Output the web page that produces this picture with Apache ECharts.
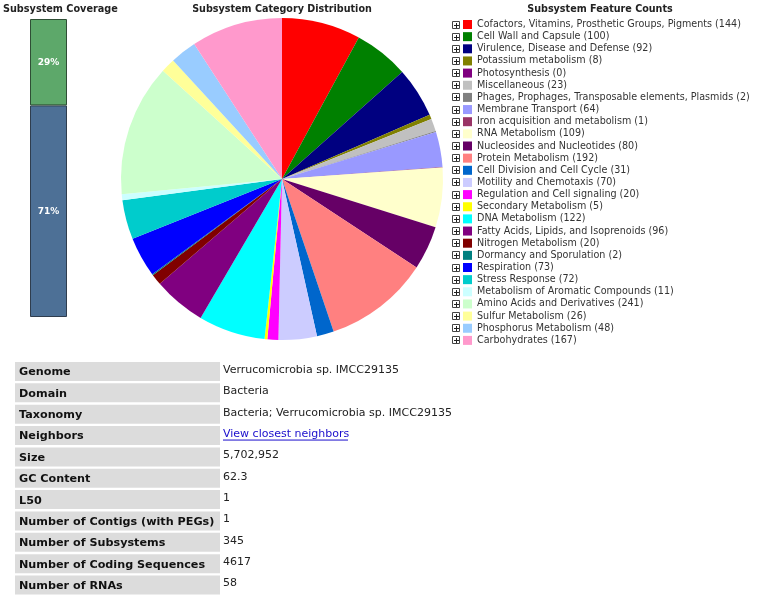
<!DOCTYPE html>
<html><head><meta charset="utf-8">
<script src="https://cdn.jsdelivr.net/npm/echarts@6/dist/echarts.min.js"></script>
<style>html,body{margin:0;padding:0;background:#fff}#c{width:768px;height:613px}</style>
</head><body><div id="c"></div>
<script>
const categories = [
 "Cofactors, Vitamins, Prosthetic Groups, Pigments","Cell Wall and Capsule","Virulence, Disease and Defense",
 "Potassium metabolism","Photosynthesis","Miscellaneous","Phages, Prophages, Transposable elements, Plasmids",
 "Membrane Transport","Iron acquisition and metabolism","RNA Metabolism","Nucleosides and Nucleotides",
 "Protein Metabolism","Cell Division and Cell Cycle","Motility and Chemotaxis","Regulation and Cell signaling",
 "Secondary Metabolism","DNA Metabolism","Fatty Acids, Lipids, and Isoprenoids","Nitrogen Metabolism",
 "Dormancy and Sporulation","Respiration","Stress Response","Metabolism of Aromatic Compounds",
 "Amino Acids and Derivatives","Sulfur Metabolism","Phosphorus Metabolism","Carbohydrates"];
const counts = [144,100,92,8,0,23,2,64,1,109,80,192,31,70,20,5,122,96,20,2,73,72,11,241,26,48,167];
const sliceColors = ["#FF0000","#008000","#000080","#808000","#800080","#C0C0C0","#808080","#9999FF","#993366",
 "#FFFFCC","#660066","#FF8080","#0066CC","#CCCCFF","#FF00FF","#FFFF00","#00FFFF","#800080","#800000",
 "#008080","#0000FF","#00CCCC","#CCFFFF","#CCFFCC","#FFFF99","#99CCFF","#FF99CC"];
const coverageNames = ["Not in subsystems","In subsystems"];
const coverageValues = [71, 29];
const tableLabels = ["Genome","Domain","Taxonomy","Neighbors","Size","GC Content","L50",
 "Number of Contigs (with PEGs)","Number of Subsystems","Number of Coding Sequences","Number of RNAs"];
const tableValues = ["Verrucomicrobia sp. IMCC29135","Bacteria","Bacteria; Verrucomicrobia sp. IMCC29135",
 "View closest neighbors","5,702,952","62.3","1","1","345","4617","58"];

const FONT = "DejaVu Sans";
const chart = echarts.init(document.getElementById('c'), null, {renderer:'canvas'});

const graphics = [];
// titles
graphics.push({type:'text', x:3, y:4, style:{text:'Subsystem Coverage', font:'bold 9.7px "'+FONT+'"', fill:'#222'}});
graphics.push({type:'text', x:282, y:4, style:{text:'Subsystem Category Distribution', font:'bold 9.6px "'+FONT+'"', fill:'#222', textAlign:'center'}});
graphics.push({type:'text', x:600, y:4, style:{text:'Subsystem Feature Counts', font:'bold 9.6px "'+FONT+'"', fill:'#222', textAlign:'center'}});
// plus boxes next to legend
const legTop = 18.5, pitch = 12.15;
categories.forEach((c,i)=>{
  const cy = Math.round(legTop + 6 + i*pitch);
  graphics.push({type:'rect', shape:{x:452.5, y:cy-3.5, width:7, height:7}, style:{fill:'#fff', stroke:'#444', lineWidth:1}});
  graphics.push({type:'line', shape:{x1:454, y1:cy+0.5, x2:459, y2:cy+0.5}, style:{stroke:'#222', lineWidth:1}});
  graphics.push({type:'line', shape:{x1:456.5, y1:cy-2, x2:456.5, y2:cy+3}, style:{stroke:'#222', lineWidth:1}});
});
// table
const rowTop = 362, rowPitch = 21.35, rowH = 19;
tableLabels.forEach((lab,i)=>{
  const y = rowTop + i*rowPitch;
  graphics.push({type:'rect', shape:{x:15, y:y, width:205, height:rowH}, style:{fill:'#DCDCDC'}});
  graphics.push({type:'text', x:19, y:y+rowH/2+1, style:{text:lab, font:'bold 11.2px "'+FONT+'"', fill:'#111', textVerticalAlign:'middle'}});
  const isLink = tableValues[i] === "View closest neighbors";
  graphics.push({type:'text', x:223, y:y+rowH/2-1.5, style:{text:tableValues[i], font:'11px "'+FONT+'"', fill:isLink?'#1a0dcc':'#222', textVerticalAlign:'middle'}});
  if (isLink) graphics.push({type:'line', shape:{x1:223, y1:y+rowH/2+4.5, x2:348, y2:y+rowH/2+4.5}, style:{stroke:'#1a0dcc', lineWidth:1}});
});

chart.setOption({
  animation:false,
  backgroundColor:'#fff',
  color: sliceColors,
  legend:{
    orient:'vertical', left:463, top:legTop, padding:0, itemWidth:9, itemHeight:9, itemGap:0.15,
    icon:'rect', selectedMode:false,
    data: categories,
    formatter: n => n + ' (' + counts[categories.indexOf(n)] + ')',
    textStyle:{fontFamily:FONT, fontSize:9.6, color:'#333', lineHeight:12}
  },
  grid:{left:30, top:19, width:37, height:298},
  xAxis:{type:'category', data:['coverage'], show:false},
  yAxis:{type:'value', min:0, max:100, show:false},
  series:[
    {type:'bar', name:coverageNames[0], stack:'cov', data:[coverageValues[0]], barWidth:'100%',
     itemStyle:{color:'#4D7096', borderColor:'#2f3d4e', borderWidth:1},
     label:{show:true, position:'inside', formatter:p=>p.value+'%', color:'#fff', fontFamily:FONT, fontWeight:'bold', fontSize:9}},
    {type:'bar', name:coverageNames[1], stack:'cov', data:[coverageValues[1]], barWidth:'100%',
     itemStyle:{color:'#5DA86A', borderColor:'#2f4e35', borderWidth:1},
     label:{show:true, position:'inside', formatter:p=>p.value+'%', color:'#fff', fontFamily:FONT, fontWeight:'bold', fontSize:9}},
    {type:'pie', center:[282,179], radius:161, startAngle:90, clockwise:true,
     label:{show:false}, labelLine:{show:false}, emphasis:{disabled:true}, silent:true,
     itemStyle:{borderWidth:0},
     data: categories.map((c,i)=>({name:c, value:counts[i]}))}
  ],
  graphic: graphics
});
</script></body></html>
